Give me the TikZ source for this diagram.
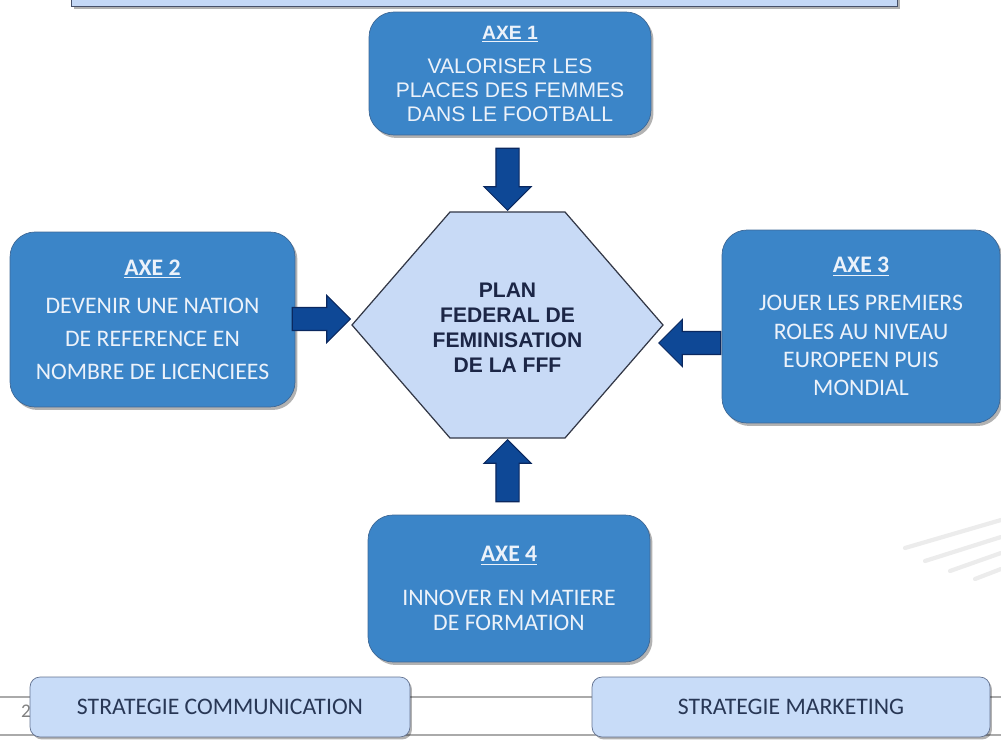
\documentclass[tikz,border=0pt]{standalone}
\usepackage{fontspec}
\setmainfont{Carlito}
\newfontfamily\arialFont{Liberation Sans}
\usetikzlibrary{shapes.arrows,shadows}

\definecolor{axeFill}{RGB}{59,133,200}
\definecolor{axeBorder}{RGB}{62,104,150}
\definecolor{axeText}{RGB}{236,242,250}
\definecolor{hexFill}{RGB}{200,218,246}
\definecolor{hexBorder}{RGB}{50,55,70}
\definecolor{hexText}{RGB}{28,38,70}
\definecolor{arrowFill}{RGB}{14,72,150}
\definecolor{arrowBorder}{RGB}{10,40,95}
\definecolor{stratFill}{RGB}{200,220,248}
\definecolor{stratBorder}{RGB}{100,115,145}
\definecolor{stratText}{RGB}{40,55,85}
\definecolor{barFill}{RGB}{196,216,246}
\definecolor{barBorder}{RGB}{70,80,105}
\definecolor{footerGray}{RGB}{170,170,170}

\newcommand\axeTitle[1]{\textbf{\underline{#1}}}

\begin{document}
\begin{tikzpicture}
[x=0.02cm, y=-0.02cm,
  axeDecorate/.style={draw=axeBorder, fill=axeFill, text=axeText, thin,
    rounded corners=0.5cm, align=center, inner sep=0pt,
    drop shadow={shadow xshift=0.05cm, shadow yshift=-0.06cm, fill=black, opacity=0.3}},
  hexDecorate/.style={draw=hexBorder, fill=hexFill, line width=0.7pt},
  arrowDecorate/.style={single arrow, draw=arrowBorder, fill=arrowFill, line width=0.6pt,
    inner xsep=0pt, inner ysep=0.22cm, single arrow head extend=0.24cm},
  stratDecorate/.style={draw=stratBorder, fill=stratFill, text=stratText, thin,
    rounded corners=0.2cm, inner sep=0pt, minimum height=1.2cm,
    font=\fontsize{13.5}{16}\selectfont,
    drop shadow={shadow xshift=0.04cm, shadow yshift=-0.05cm, fill=black, opacity=0.3}},
  barDecorate/.style={draw=barBorder, fill=barFill, line width=0.8pt,
    drop shadow={shadow xshift=0.04cm, shadow yshift=-0.05cm, fill=black, opacity=0.3}},
  footerLine/.style={footerGray, line width=0.7pt}]
\useasboundingbox (0,0) rectangle (1001,743);
\clip (0,0) rectangle (1001,743);

%% slide footer and streaks
\foreach \y in {697, 735}
{
  \draw[footerLine] (0,\y) -- (1001,\y);
}
\foreach \xa/\ya/\yb in {905/548/520, 925/561/537, 950/571/553, 975/579/569}
{
  \draw[gray!15, line width=2.4pt, line cap=round] (\xa,\ya) -- (1001,\yb);
}
\node[text=gray] (pageNum) at (26,711) {\fontsize{11}{11}\selectfont 2};

%% title bar
\node[barDecorate, minimum width=16.52cm, minimum height=1cm, anchor=south west]
  (titleBar) at (71,7) {};

%% axes
\node[axeDecorate, minimum width=5.64cm, minimum height=2.46cm,
  font=\arialFont\fontsize{12}{13.4}\selectfont] (axe1) at (510,73.5)
  {{\fontsize{11}{13.4}\selectfont\axeTitle{AXE 1}}\\[6.5pt]
   VALORISER LES\\ PLACES DES FEMMES\\ DANS LE FOOTBALL};
\node[axeDecorate, minimum width=5.7cm, minimum height=3.5cm,
  font=\fontsize{13.5}{18.8}\selectfont] (axe2) at (152.5,319.5)
  {\axeTitle{AXE 2}\\[3pt]
   DEVENIR UNE NATION\\ DE REFERENCE EN\\ NOMBRE DE LICENCIEES};
\node[axeDecorate, minimum width=5.56cm, minimum height=3.86cm,
  font=\fontsize{13.5}{16.2}\selectfont] (axe3) at (861,326.5)
  {\axeTitle{AXE 3}\\[5.5pt]
   JOUER LES PREMIERS\\ ROLES AU NIVEAU\\ EUROPEEN PUIS\\ MONDIAL};
\node[axeDecorate, minimum width=5.64cm, minimum height=2.94cm,
  font=\fontsize{13.5}{14.2}\selectfont] (axe4) at (509,588.5)
  {\axeTitle{AXE 4}\\[11pt]
   INNOVER EN MATIERE\\ DE FORMATION};

%% central hexagon
\coordinate (hexW) at (352,325);
\coordinate (hexNW) at (450,212);
\coordinate (hexNE) at (565,212);
\coordinate (hexE) at (663,325);
\coordinate (hexSE) at (565,438);
\coordinate (hexSW) at (450,438);
\draw[hexDecorate] (hexW) -- (hexNW) -- (hexNE) -- (hexE) -- (hexSE) -- (hexSW) -- cycle;
\node[text=hexText, align=center, font=\arialFont\bfseries\fontsize{12}{14.2}\selectfont]
  (plan) at (507.5,328) {PLAN\\ FEDERAL DE\\ FEMINISATION\\ DE LA FFF};

%% arrows into the plan
\foreach \arrname/\x/\y/\rot/\len in {
  arrN/507.5/211/-90/1.24cm, arrS/507.5/439/90/1.24cm,
  arrW/351/319/0/1.16cm, arrE/658/343/180/1.24cm}
{
  \node[arrowDecorate, rotate=\rot, minimum height=\len, anchor=tip] (\arrname) at (\x,\y) {};
}

%% strategies
\node[stratDecorate, minimum width=7.6cm] (stratComm) at (220,707) {STRATEGIE COMMUNICATION};
\node[stratDecorate, minimum width=7.96cm] (stratMarketing) at (791,707) {STRATEGIE MARKETING};
\end{tikzpicture}
\end{document}
